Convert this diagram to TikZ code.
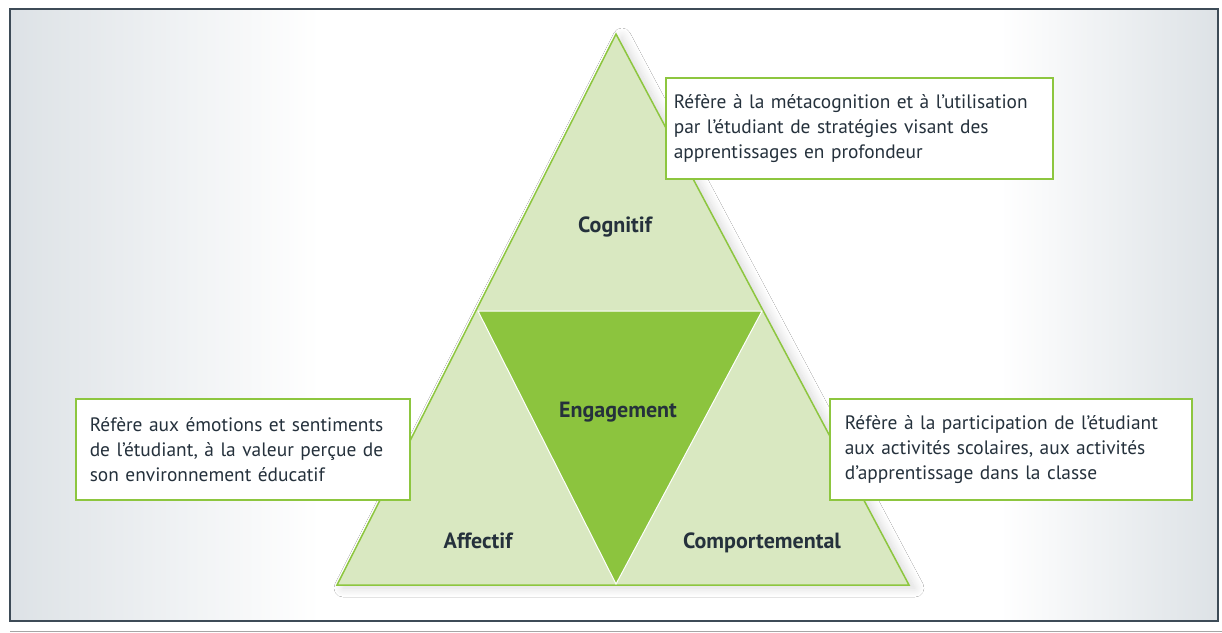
\documentclass[tikz,border=0pt]{standalone}
\usepackage{fontspec}
\setmainfont{PT Sans}
\usetikzlibrary{positioning,shadows.blur}
\definecolor{leaf}{HTML}{8DC63F}
\definecolor{paleleaf}{HTML}{D9E8C1}
\definecolor{deepleaf}{HTML}{8CC43E}
\definecolor{ink}{HTML}{25313C}
\definecolor{frameink}{HTML}{3D4B57}
\definecolor{bggray}{HTML}{DDE2E6}

\begin{document}
\begin{tikzpicture}[x=1pt,y=-1pt,
  lbl/.style={font=\bfseries\fontsize{22}{26}\selectfont, text=ink, anchor=base},
  infobox/.style={draw=leaf, line width=1.6pt, fill=white, text=ink, align=left,
    anchor=north west, inner ysep=4pt, minimum height=101pt,
    font=\fontsize{19.4}{25}\selectfont}]
\useasboundingbox (0,0) rectangle (1222,632);
% background
\fill[white] (10,9) rectangle (1218,621);
\shade[left color=bggray, right color=white] (10,9) rectangle (320,621);
\shade[left color=white, right color=bggray] (1000,9) rectangle (1218,621);
\draw[frameink, line width=1.8pt] (10,9) rectangle (1218,621);
\draw[gray!70, line width=1pt] (10,631) -- (1222,631);

\coordinate (apex) at (616,34);
\coordinate (bl) at (337,585);
\coordinate (br) at (909,585);
\coordinate (ml) at (478,311);
\coordinate (mr) at (762,311);
\coordinate (mb) at (616,584);

\draw[leaf, fill=paleleaf, line width=1.5pt,
  blur shadow={shadow xshift=6pt, shadow yshift=-3pt, shadow opacity=15,
    shadow blur radius=9pt, shadow blur steps=12}]
  (apex) -- (br) -- (bl) -- cycle;
\draw[white, fill=deepleaf, line width=1pt] (ml) -- (mr) -- (mb) -- cycle;

\node [lbl] (cogn) at (615,232) {Cognitif};
\node [lbl] (engag) at (618,417) {Engagement};
\node [lbl] (affect) at (478,548) {Affectif};
\node [lbl] (comport) at (762,548) {Comportemental};

\node [infobox, text width=371pt, inner xsep=8pt] (cognbox) at (665,77)
  {Réfère à la métacognition et à l’utilisation\\
   par l’étudiant de stratégies visant des\\
   apprentissages en profondeur};
\node [infobox, text width=306pt, inner xsep=14pt] (affectbox) at (75,398)
  {Réfère aux émotions et sentiments\\
   de l’étudiant, à la valeur perçue de\\
   son environnement éducatif};
\node [infobox, text width=332pt, inner xsep=15pt] (comportbox) at (829,398)
  {Réfère à la participation de l’étudiant\\
   aux activités scolaires, aux activités\\
   d’apprentissage dans la classe};
\end{tikzpicture}
\end{document}
